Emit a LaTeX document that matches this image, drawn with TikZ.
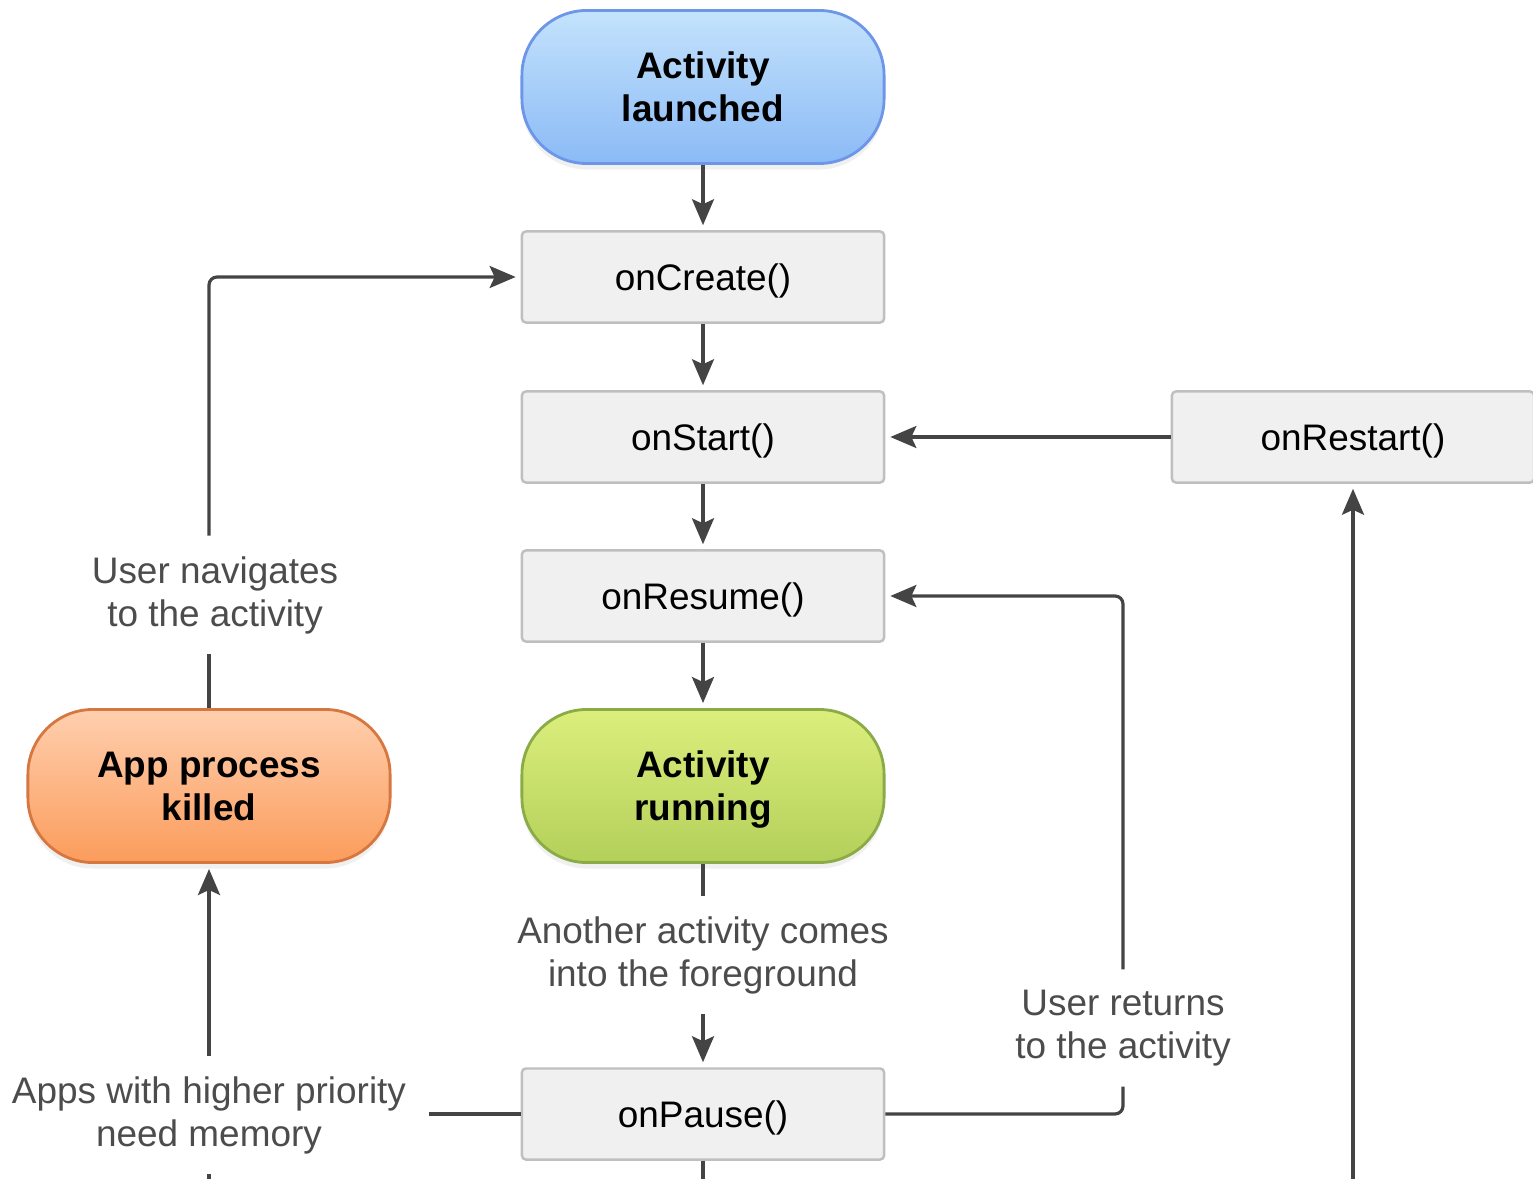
\documentclass[tikz,border=0pt]{standalone}
\usepackage{fontspec}
\setmainfont{Liberation Sans}
\usetikzlibrary{arrows.meta,shadows}
\definecolor{lineg}{HTML}{444444}
\definecolor{blueT}{HTML}{C4E3FC}
\definecolor{blueB}{HTML}{8BBAF6}
\definecolor{blueD}{HTML}{6D96E8}
\definecolor{greenT}{HTML}{DCEE7C}
\definecolor{greenB}{HTML}{B3D05A}
\definecolor{greenD}{HTML}{8AAB45}
\definecolor{orangeT}{HTML}{FFCFAE}
\definecolor{orangeB}{HTML}{FB9C5C}
\definecolor{orangeD}{HTML}{D6773F}

\begin{document}
\begin{tikzpicture}[x=0.01cm,y=-0.01cm,
    every node/.style={font=\fontsize{10.5}{12.2}\selectfont},
    call/.style={draw=black!25,line width=0.7pt,fill=black!6,rounded corners=0.04cm,
        minimum width=3.62cm,minimum height=0.91cm,text height=9.8pt,text depth=2.2pt},
    pill/.style={line width=0.8pt,rounded corners=0.65cm,minimum width=3.62cm,
        minimum height=1.53cm,align=center,font=\fontsize{10.5}{12.2}\selectfont\bfseries,
        text depth=0pt,drop shadow={opacity=0.12,shadow xshift=0cm,shadow yshift=-0.06cm}},
    note/.style={align=center,text=black!70,inner xsep=0.22cm,inner ysep=0.2cm},
    link/.style={draw=lineg,line width=0.9pt},
    flow/.style={link,-{Stealth[length=0.26cm,width=0.22cm,inset=0.05cm]},shorten >=0.05cm}]
                \useasboundingbox (0,0) rectangle (1533,1179);
                \node[pill,top color=blueT,bottom color=blueB,draw=blueD] (launched) at (703,87) {Activity\\launched};
                \node[call] (create) at (703,277) {onCreate()};
                \node[call] (start) at (703,437) {onStart()};
                \node[call] (resume) at (703,596) {onResume()};
                \node[pill,top color=greenT,bottom color=greenB,draw=greenD] (running) at (703,786) {Activity\\running};
                \node[note] (fg) at (703,955) {Another activity comes\\into the foreground};
                \node[call] (pause) at (703,1114) {onPause()};
                \node[call] (restart) at (1353,437) {onRestart()};
                \node[pill,top color=orangeT,bottom color=orangeB,draw=orangeD] (killed) at (209,786) {App process\\killed};
                \node[note] (nav) at (215,595) {User navigates\\to the activity};
                \node[note] (ret) at (1123,1028) {User returns\\to the activity};
                \node[note] (mem) at (209,1115) {Apps with higher priority\\need memory};
                \coordinate (bottom) at (0,1179);
                % main column
                \draw[flow] (launched) -- (create);
                \draw[flow] (create) -- (start);
                \draw[flow] (start) -- (resume);
                \draw[flow] (resume) -- (running);
                \draw[link] (running) -- (fg);
                \draw[flow] (fg) -- (pause);
                \draw[link] (pause) -- (pause |- bottom);
                % side loops
                \draw[flow] (restart) -- (start);
                \draw[flow] (restart.south |- bottom) -- (restart);
                \draw[link,rounded corners=0.08cm] (pause) -| (ret);
                \draw[flow,rounded corners=0.08cm] (ret) |- (resume);
                \draw[link] (pause.west) -- (pause.west -| mem.east);
                \draw[flow] (mem) -- (killed);
                \draw[link] (mem) -- (mem |- bottom);
                \draw[link] (killed.north) -- (killed.north |- nav.south);
                \draw[flow,rounded corners=0.08cm] (killed.north |- nav.north) |- (create);
\end{tikzpicture}
\end{document}
